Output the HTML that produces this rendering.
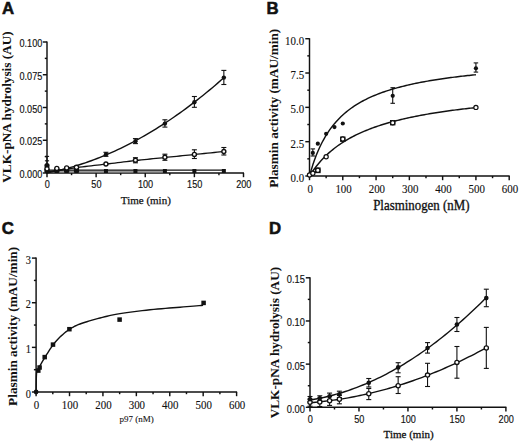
<!DOCTYPE html>
<html><head><meta charset="utf-8"><style>
html,body{margin:0;padding:0;background:#fff;}
body{width:520px;height:441px;overflow:hidden;}
svg{display:block;}
text{fill:#111;stroke:#111;stroke-width:0.3px;}
</style></head><body>
<svg width="520" height="441" viewBox="0 0 520 441">
<rect width="520" height="441" fill="#fff"/>
<line x1="47.00" y1="41.50" x2="47.00" y2="173.70" stroke="#111" stroke-width="1.45"/>
<line x1="46.30" y1="173.00" x2="244.00" y2="173.00" stroke="#111" stroke-width="1.45"/>
<line x1="42.80" y1="173.00" x2="47.00" y2="173.00" stroke="#111" stroke-width="1.45"/>
<line x1="42.80" y1="140.25" x2="47.00" y2="140.25" stroke="#111" stroke-width="1.45"/>
<line x1="42.80" y1="107.50" x2="47.00" y2="107.50" stroke="#111" stroke-width="1.45"/>
<line x1="42.80" y1="74.75" x2="47.00" y2="74.75" stroke="#111" stroke-width="1.45"/>
<line x1="42.80" y1="42.00" x2="47.00" y2="42.00" stroke="#111" stroke-width="1.45"/>
<line x1="44.80" y1="156.62" x2="47.00" y2="156.62" stroke="#111" stroke-width="1.45"/>
<line x1="44.80" y1="123.88" x2="47.00" y2="123.88" stroke="#111" stroke-width="1.45"/>
<line x1="44.80" y1="91.12" x2="47.00" y2="91.12" stroke="#111" stroke-width="1.45"/>
<line x1="44.80" y1="58.38" x2="47.00" y2="58.38" stroke="#111" stroke-width="1.45"/>
<line x1="47.00" y1="173.00" x2="47.00" y2="177.20" stroke="#111" stroke-width="1.45"/>
<line x1="96.12" y1="173.00" x2="96.12" y2="177.20" stroke="#111" stroke-width="1.45"/>
<line x1="145.25" y1="173.00" x2="145.25" y2="177.20" stroke="#111" stroke-width="1.45"/>
<line x1="194.38" y1="173.00" x2="194.38" y2="177.20" stroke="#111" stroke-width="1.45"/>
<line x1="243.50" y1="173.00" x2="243.50" y2="177.20" stroke="#111" stroke-width="1.45"/>
<line x1="71.56" y1="173.00" x2="71.56" y2="175.20" stroke="#111" stroke-width="1.45"/>
<line x1="120.69" y1="173.00" x2="120.69" y2="175.20" stroke="#111" stroke-width="1.45"/>
<line x1="169.81" y1="173.00" x2="169.81" y2="175.20" stroke="#111" stroke-width="1.45"/>
<line x1="218.94" y1="173.00" x2="218.94" y2="175.20" stroke="#111" stroke-width="1.45"/>
<text transform="translate(42.30,178.00) scale(0.95,1.07)" style="font-family:'Liberation Sans',sans-serif;font-size:9.6px;font-weight:normal;stroke-width:0.15px" text-anchor="end" >0.000</text>
<text transform="translate(42.30,145.25) scale(0.95,1.07)" style="font-family:'Liberation Sans',sans-serif;font-size:9.6px;font-weight:normal;stroke-width:0.15px" text-anchor="end" >0.025</text>
<text transform="translate(42.30,112.50) scale(0.95,1.07)" style="font-family:'Liberation Sans',sans-serif;font-size:9.6px;font-weight:normal;stroke-width:0.15px" text-anchor="end" >0.050</text>
<text transform="translate(42.30,79.75) scale(0.95,1.07)" style="font-family:'Liberation Sans',sans-serif;font-size:9.6px;font-weight:normal;stroke-width:0.15px" text-anchor="end" >0.075</text>
<text transform="translate(42.30,47.00) scale(0.95,1.07)" style="font-family:'Liberation Sans',sans-serif;font-size:9.6px;font-weight:normal;stroke-width:0.15px" text-anchor="end" >0.100</text>
<text transform="translate(47.30,188.40) scale(0.95,1.1)" style="font-family:'Liberation Sans',sans-serif;font-size:9.6px;font-weight:normal;stroke-width:0.15px" text-anchor="middle" >0</text>
<text transform="translate(96.42,188.40) scale(0.95,1.1)" style="font-family:'Liberation Sans',sans-serif;font-size:9.6px;font-weight:normal;stroke-width:0.15px" text-anchor="middle" >50</text>
<text transform="translate(145.55,188.40) scale(0.95,1.1)" style="font-family:'Liberation Sans',sans-serif;font-size:9.6px;font-weight:normal;stroke-width:0.15px" text-anchor="middle" >100</text>
<text transform="translate(194.68,188.40) scale(0.95,1.1)" style="font-family:'Liberation Sans',sans-serif;font-size:9.6px;font-weight:normal;stroke-width:0.15px" text-anchor="middle" >150</text>
<text transform="translate(243.80,188.40) scale(0.95,1.1)" style="font-family:'Liberation Sans',sans-serif;font-size:9.6px;font-weight:normal;stroke-width:0.15px" text-anchor="middle" >200</text>
<text transform="translate(145.80,203.90) scale(1.0,1.0)" style="font-family:'Liberation Serif',serif;font-size:11px;font-weight:normal;stroke-width:0.25px" text-anchor="middle" >Time (min)</text>
<text transform="translate(11.00,107.00) rotate(-90)" style="font-family:'Liberation Serif',serif;font-size:13.25px;font-weight:bold;stroke-width:0.05px" text-anchor="middle">VLK-pNA hydrolysis (AU)</text>
<text transform="translate(1.90,13.70) scale(1.0,1.0)" style="font-family:'Liberation Sans',sans-serif;font-size:16.8px;font-weight:bold;stroke-width:0.55px" text-anchor="start" >A</text>
<rect x="47.00" y="170.5" width="117.90" height="2.0" fill="#9a9a9a"/>
<line x1="47.00" y1="170.10" x2="223.85" y2="170.10" stroke="#111" stroke-width="1.1"/>
<rect x="45.00" y="169.00" width="4.0" height="4.0" fill="#111"/>
<rect x="54.83" y="169.00" width="4.0" height="4.0" fill="#111"/>
<rect x="64.65" y="169.00" width="4.0" height="4.0" fill="#111"/>
<rect x="74.47" y="169.00" width="4.0" height="4.0" fill="#111"/>
<rect x="103.95" y="169.00" width="4.0" height="4.0" fill="#111"/>
<rect x="133.43" y="169.00" width="4.0" height="4.0" fill="#111"/>
<rect x="162.90" y="169.00" width="4.0" height="4.0" fill="#111"/>
<rect x="192.38" y="169.00" width="4.0" height="4.0" fill="#111"/>
<rect x="221.85" y="169.00" width="4.0" height="4.0" fill="#111"/>
<path d="M47.00,172.00 L48.75,171.73 L51.01,171.39 L53.68,170.98 L56.67,170.51 L59.90,170.02 L63.27,169.51 L66.70,168.99 L70.11,168.49 L73.39,168.02 L76.47,167.60 L79.42,167.21 L82.37,166.84 L85.32,166.48 L88.27,166.14 L91.21,165.79 L94.16,165.46 L97.11,165.12 L100.05,164.79 L103.00,164.45 L105.95,164.10 L108.90,163.75 L111.84,163.39 L114.79,163.04 L117.74,162.68 L120.69,162.32 L123.64,161.97 L126.58,161.62 L129.53,161.27 L132.48,160.93 L135.43,160.60 L138.37,160.27 L141.32,159.95 L144.27,159.64 L147.22,159.33 L150.16,159.02 L153.11,158.71 L156.06,158.41 L159.01,158.11 L161.95,157.80 L164.90,157.50 L167.85,157.20 L170.80,156.89 L173.74,156.59 L176.69,156.29 L179.64,155.99 L182.59,155.70 L185.53,155.40 L188.48,155.10 L191.43,154.80 L194.38,154.50 L197.46,154.19 L200.74,153.85 L204.15,153.51 L207.58,153.16 L210.95,152.81 L214.18,152.48 L217.17,152.18 L219.84,151.91 L222.10,151.68 L223.85,151.50" fill="none" stroke="#111" stroke-width="1.3" stroke-linejoin="round"/>
<path d="M47.00,173.00 L49.95,172.42 L52.90,171.81 L55.84,171.16 L58.79,170.48 L61.74,169.76 L64.69,169.01 L67.63,168.23 L70.58,167.41 L73.53,166.56 L76.47,165.67 L79.42,164.75 L82.37,163.79 L85.32,162.80 L88.27,161.78 L91.21,160.72 L94.16,159.63 L97.11,158.51 L100.06,157.35 L103.00,156.15 L105.95,154.92 L108.90,153.66 L111.84,152.36 L114.79,151.03 L117.74,149.67 L120.69,148.27 L123.64,146.83 L126.58,145.36 L129.53,143.86 L132.48,142.32 L135.43,140.75 L138.37,139.15 L141.32,137.51 L144.27,135.84 L147.22,134.13 L150.16,132.39 L153.11,130.61 L156.06,128.80 L159.00,126.96 L161.95,125.08 L164.90,123.17 L167.85,121.22 L170.80,119.24 L173.74,117.22 L176.69,115.18 L179.64,113.09 L182.59,110.97 L185.53,108.82 L188.48,106.64 L191.43,104.42 L194.38,102.16 L197.32,99.87 L200.27,97.55 L203.22,95.19 L206.17,92.80 L209.11,90.38 L212.06,87.92 L215.01,85.42 L217.96,82.90 L220.90,80.33 L223.85,77.74" fill="none" stroke="#111" stroke-width="1.4" stroke-linejoin="round"/>
<line x1="135.43" y1="157.70" x2="135.43" y2="162.80" stroke="#111" stroke-width="1.1"/>
<line x1="132.93" y1="157.70" x2="137.93" y2="157.70" stroke="#111" stroke-width="1.1"/>
<line x1="132.93" y1="162.80" x2="137.93" y2="162.80" stroke="#111" stroke-width="1.1"/>
<line x1="164.90" y1="154.20" x2="164.90" y2="160.30" stroke="#111" stroke-width="1.1"/>
<line x1="162.40" y1="154.20" x2="167.40" y2="154.20" stroke="#111" stroke-width="1.1"/>
<line x1="162.40" y1="160.30" x2="167.40" y2="160.30" stroke="#111" stroke-width="1.1"/>
<line x1="194.38" y1="149.80" x2="194.38" y2="158.50" stroke="#111" stroke-width="1.1"/>
<line x1="191.88" y1="149.80" x2="196.88" y2="149.80" stroke="#111" stroke-width="1.1"/>
<line x1="191.88" y1="158.50" x2="196.88" y2="158.50" stroke="#111" stroke-width="1.1"/>
<line x1="223.85" y1="147.50" x2="223.85" y2="155.00" stroke="#111" stroke-width="1.1"/>
<line x1="221.35" y1="147.50" x2="226.35" y2="147.50" stroke="#111" stroke-width="1.1"/>
<line x1="221.35" y1="155.00" x2="226.35" y2="155.00" stroke="#111" stroke-width="1.1"/>
<line x1="105.95" y1="152.30" x2="105.95" y2="156.30" stroke="#111" stroke-width="1.1"/>
<line x1="103.45" y1="152.30" x2="108.45" y2="152.30" stroke="#111" stroke-width="1.1"/>
<line x1="103.45" y1="156.30" x2="108.45" y2="156.30" stroke="#111" stroke-width="1.1"/>
<line x1="135.43" y1="138.60" x2="135.43" y2="143.60" stroke="#111" stroke-width="1.1"/>
<line x1="132.93" y1="138.60" x2="137.93" y2="138.60" stroke="#111" stroke-width="1.1"/>
<line x1="132.93" y1="143.60" x2="137.93" y2="143.60" stroke="#111" stroke-width="1.1"/>
<line x1="164.90" y1="119.80" x2="164.90" y2="127.10" stroke="#111" stroke-width="1.1"/>
<line x1="162.40" y1="119.80" x2="167.40" y2="119.80" stroke="#111" stroke-width="1.1"/>
<line x1="162.40" y1="127.10" x2="167.40" y2="127.10" stroke="#111" stroke-width="1.1"/>
<line x1="194.38" y1="96.50" x2="194.38" y2="107.30" stroke="#111" stroke-width="1.1"/>
<line x1="191.88" y1="96.50" x2="196.88" y2="96.50" stroke="#111" stroke-width="1.1"/>
<line x1="191.88" y1="107.30" x2="196.88" y2="107.30" stroke="#111" stroke-width="1.1"/>
<line x1="223.85" y1="70.40" x2="223.85" y2="84.50" stroke="#111" stroke-width="1.1"/>
<line x1="221.35" y1="70.40" x2="226.35" y2="70.40" stroke="#111" stroke-width="1.1"/>
<line x1="221.35" y1="84.50" x2="226.35" y2="84.50" stroke="#111" stroke-width="1.1"/>
<line x1="47.00" y1="156.40" x2="47.00" y2="172.00" stroke="#111" stroke-width="1.1"/>
<line x1="44.90" y1="156.40" x2="49.10" y2="156.40" stroke="#111" stroke-width="1.1"/>
<line x1="44.90" y1="172.00" x2="49.10" y2="172.00" stroke="#111" stroke-width="1.1"/>
<line x1="44.90" y1="160.80" x2="49.10" y2="160.80" stroke="#111" stroke-width="1.1"/>
<circle cx="47.00" cy="165.50" r="2.6" fill="#111"/>
<rect x="44.40" y="168.80" width="5.2" height="3.80" fill="#111"/>
<circle cx="47.00" cy="168.80" r="2.7" fill="#111"/>
<circle cx="47.00" cy="168.80" r="1.35" fill="#fff"/>
<rect x="54.23" y="168.40" width="5.2" height="4.20" fill="#111"/>
<circle cx="56.83" cy="168.40" r="2.7" fill="#111"/>
<circle cx="56.83" cy="168.40" r="1.35" fill="#fff"/>
<rect x="64.05" y="167.90" width="5.2" height="4.70" fill="#111"/>
<circle cx="66.65" cy="167.90" r="2.7" fill="#111"/>
<circle cx="66.65" cy="167.90" r="1.35" fill="#fff"/>
<rect x="73.88" y="167.30" width="5.2" height="5.30" fill="#111"/>
<circle cx="76.47" cy="167.30" r="2.7" fill="#111"/>
<circle cx="76.47" cy="167.30" r="1.35" fill="#fff"/>
<circle cx="105.95" cy="164.00" r="2.0" fill="#fff" stroke="#111" stroke-width="1.4"/>
<circle cx="135.43" cy="160.20" r="2.0" fill="#fff" stroke="#111" stroke-width="1.4"/>
<circle cx="164.90" cy="157.30" r="2.0" fill="#fff" stroke="#111" stroke-width="1.4"/>
<circle cx="194.38" cy="154.40" r="2.0" fill="#fff" stroke="#111" stroke-width="1.4"/>
<circle cx="223.85" cy="151.50" r="2.0" fill="#fff" stroke="#111" stroke-width="1.4"/>
<circle cx="105.95" cy="154.40" r="2.2" fill="#111"/>
<circle cx="135.43" cy="141.20" r="2.2" fill="#111"/>
<circle cx="164.90" cy="123.60" r="2.2" fill="#111"/>
<circle cx="194.38" cy="102.30" r="2.2" fill="#111"/>
<circle cx="223.85" cy="77.60" r="2.2" fill="#111"/>
<line x1="309.50" y1="38.20" x2="309.50" y2="176.70" stroke="#111" stroke-width="1.45"/>
<line x1="308.80" y1="176.00" x2="509.70" y2="176.00" stroke="#111" stroke-width="1.45"/>
<line x1="305.30" y1="176.00" x2="309.50" y2="176.00" stroke="#111" stroke-width="1.45"/>
<line x1="305.30" y1="141.68" x2="309.50" y2="141.68" stroke="#111" stroke-width="1.45"/>
<line x1="305.30" y1="107.35" x2="309.50" y2="107.35" stroke="#111" stroke-width="1.45"/>
<line x1="305.30" y1="73.02" x2="309.50" y2="73.02" stroke="#111" stroke-width="1.45"/>
<line x1="305.30" y1="38.70" x2="309.50" y2="38.70" stroke="#111" stroke-width="1.45"/>
<line x1="307.30" y1="158.84" x2="309.50" y2="158.84" stroke="#111" stroke-width="1.45"/>
<line x1="307.30" y1="124.51" x2="309.50" y2="124.51" stroke="#111" stroke-width="1.45"/>
<line x1="307.30" y1="90.19" x2="309.50" y2="90.19" stroke="#111" stroke-width="1.45"/>
<line x1="307.30" y1="55.86" x2="309.50" y2="55.86" stroke="#111" stroke-width="1.45"/>
<line x1="309.50" y1="176.00" x2="309.50" y2="180.20" stroke="#111" stroke-width="1.45"/>
<line x1="342.78" y1="176.00" x2="342.78" y2="180.20" stroke="#111" stroke-width="1.45"/>
<line x1="376.07" y1="176.00" x2="376.07" y2="180.20" stroke="#111" stroke-width="1.45"/>
<line x1="409.35" y1="176.00" x2="409.35" y2="180.20" stroke="#111" stroke-width="1.45"/>
<line x1="442.63" y1="176.00" x2="442.63" y2="180.20" stroke="#111" stroke-width="1.45"/>
<line x1="475.92" y1="176.00" x2="475.92" y2="180.20" stroke="#111" stroke-width="1.45"/>
<line x1="509.20" y1="176.00" x2="509.20" y2="180.20" stroke="#111" stroke-width="1.45"/>
<line x1="326.14" y1="176.00" x2="326.14" y2="178.20" stroke="#111" stroke-width="1.45"/>
<line x1="359.43" y1="176.00" x2="359.43" y2="178.20" stroke="#111" stroke-width="1.45"/>
<line x1="392.71" y1="176.00" x2="392.71" y2="178.20" stroke="#111" stroke-width="1.45"/>
<line x1="425.99" y1="176.00" x2="425.99" y2="178.20" stroke="#111" stroke-width="1.45"/>
<line x1="459.27" y1="176.00" x2="459.27" y2="178.20" stroke="#111" stroke-width="1.45"/>
<line x1="492.56" y1="176.00" x2="492.56" y2="178.20" stroke="#111" stroke-width="1.45"/>
<text transform="translate(304.10,181.90) scale(0.94,1.1)" style="font-family:'Liberation Serif',serif;font-size:11.6px;font-weight:normal;stroke-width:0.12px" text-anchor="end" >0.0</text>
<text transform="translate(304.10,147.58) scale(0.94,1.1)" style="font-family:'Liberation Serif',serif;font-size:11.6px;font-weight:normal;stroke-width:0.12px" text-anchor="end" >2.5</text>
<text transform="translate(304.10,113.25) scale(0.94,1.1)" style="font-family:'Liberation Serif',serif;font-size:11.6px;font-weight:normal;stroke-width:0.12px" text-anchor="end" >5.0</text>
<text transform="translate(304.10,78.92) scale(0.94,1.1)" style="font-family:'Liberation Serif',serif;font-size:11.6px;font-weight:normal;stroke-width:0.12px" text-anchor="end" >7.5</text>
<text transform="translate(304.10,44.60) scale(0.94,1.1)" style="font-family:'Liberation Serif',serif;font-size:11.6px;font-weight:normal;stroke-width:0.12px" text-anchor="end" >10.0</text>
<text transform="translate(310.30,192.90) scale(0.94,1.1)" style="font-family:'Liberation Serif',serif;font-size:11.6px;font-weight:normal;stroke-width:0.12px" text-anchor="middle" >0</text>
<text transform="translate(343.58,192.90) scale(0.94,1.1)" style="font-family:'Liberation Serif',serif;font-size:11.6px;font-weight:normal;stroke-width:0.12px" text-anchor="middle" >100</text>
<text transform="translate(376.87,192.90) scale(0.94,1.1)" style="font-family:'Liberation Serif',serif;font-size:11.6px;font-weight:normal;stroke-width:0.12px" text-anchor="middle" >200</text>
<text transform="translate(410.15,192.90) scale(0.94,1.1)" style="font-family:'Liberation Serif',serif;font-size:11.6px;font-weight:normal;stroke-width:0.12px" text-anchor="middle" >300</text>
<text transform="translate(443.43,192.90) scale(0.94,1.1)" style="font-family:'Liberation Serif',serif;font-size:11.6px;font-weight:normal;stroke-width:0.12px" text-anchor="middle" >400</text>
<text transform="translate(476.72,192.90) scale(0.94,1.1)" style="font-family:'Liberation Serif',serif;font-size:11.6px;font-weight:normal;stroke-width:0.12px" text-anchor="middle" >500</text>
<text transform="translate(510.00,192.90) scale(0.94,1.1)" style="font-family:'Liberation Serif',serif;font-size:11.6px;font-weight:normal;stroke-width:0.12px" text-anchor="middle" >600</text>
<text transform="translate(421.30,209.70) scale(1.0,1.06)" style="font-family:'Liberation Serif',serif;font-size:12.9px;font-weight:normal" text-anchor="middle" >Plasminogen (nM)</text>
<text transform="translate(277.50,108.30) rotate(-90)" style="font-family:'Liberation Serif',serif;font-size:13.25px;font-weight:bold;stroke-width:0.05px" text-anchor="middle">Plasmin activity (mAU/min)</text>
<text transform="translate(266.60,13.50) scale(1.0,1.0)" style="font-family:'Liberation Sans',sans-serif;font-size:16.8px;font-weight:bold;stroke-width:0.55px" text-anchor="start" >B</text>
<path d="M309.50,176.00 L311.16,170.16 L312.83,164.85 L314.49,160.01 L316.16,155.58 L317.82,151.50 L319.49,147.75 L321.15,144.27 L322.81,141.04 L324.48,138.04 L326.14,135.24 L327.81,132.62 L329.47,130.17 L331.13,127.87 L332.80,125.70 L334.46,123.66 L336.13,121.73 L337.79,119.90 L339.45,118.18 L341.12,116.54 L342.78,114.98 L344.45,113.50 L346.11,112.10 L347.78,110.75 L349.44,109.47 L351.10,108.25 L352.77,107.08 L354.43,105.96 L356.10,104.89 L357.76,103.86 L359.43,102.87 L361.09,101.92 L362.75,101.01 L364.42,100.13 L366.08,99.28 L367.75,98.47 L369.41,97.69 L371.07,96.93 L372.74,96.20 L374.40,95.49 L376.07,94.81 L377.73,94.15 L379.39,93.51 L381.06,92.89 L382.72,92.29 L384.39,91.71 L386.05,91.15 L387.72,90.60 L389.38,90.07 L391.04,89.56 L392.71,89.06 L394.37,88.57 L396.04,88.10 L397.70,87.64 L399.37,87.20 L401.03,86.76 L402.69,86.34 L404.36,85.93 L406.02,85.52 L407.69,85.13 L409.35,84.75 L411.01,84.38 L412.68,84.02 L414.34,83.66 L416.01,83.32 L417.67,82.98 L419.33,82.65 L421.00,82.33 L422.66,82.01 L424.33,81.70 L425.99,81.40 L427.66,81.11 L429.32,80.82 L430.98,80.54 L432.65,80.26 L434.31,79.99 L435.98,79.73 L437.64,79.47 L439.31,79.22 L440.97,78.97 L442.63,78.73 L444.30,78.49 L445.96,78.25 L447.63,78.03 L449.29,77.80 L450.95,77.58 L452.62,77.36 L454.28,77.15 L455.95,76.94 L457.61,76.74 L459.27,76.54 L460.94,76.34 L462.60,76.15 L464.27,75.96 L465.93,75.77 L467.60,75.59 L469.26,75.41 L470.92,75.23 L472.59,75.05 L474.25,74.88 L475.92,74.71" fill="none" stroke="#111" stroke-width="1.45" stroke-linejoin="round"/>
<path d="M309.50,176.00 L311.16,173.43 L312.83,171.01 L314.49,168.71 L316.16,166.52 L317.82,164.45 L319.49,162.48 L321.15,160.60 L322.81,158.81 L324.48,157.10 L326.14,155.47 L327.81,153.90 L329.47,152.41 L331.13,150.97 L332.80,149.60 L334.46,148.28 L336.13,147.01 L337.79,145.79 L339.45,144.62 L341.12,143.49 L342.78,142.40 L344.45,141.35 L346.11,140.34 L347.78,139.36 L349.44,138.41 L351.10,137.50 L352.77,136.62 L354.43,135.76 L356.10,134.93 L357.76,134.13 L359.43,133.35 L361.09,132.60 L362.75,131.87 L364.42,131.16 L366.08,130.47 L367.75,129.80 L369.41,129.15 L371.07,128.52 L372.74,127.90 L374.40,127.30 L376.07,126.72 L377.73,126.15 L379.39,125.60 L381.06,125.06 L382.72,124.54 L384.39,124.03 L386.05,123.53 L387.72,123.04 L389.38,122.56 L391.04,122.10 L392.71,121.65 L394.37,121.20 L396.04,120.77 L397.70,120.35 L399.37,119.94 L401.03,119.53 L402.69,119.14 L404.36,118.75 L406.02,118.37 L407.69,118.00 L409.35,117.64 L411.01,117.29 L412.68,116.94 L414.34,116.60 L416.01,116.27 L417.67,115.94 L419.33,115.62 L421.00,115.31 L422.66,115.00 L424.33,114.70 L425.99,114.40 L427.66,114.11 L429.32,113.82 L430.98,113.54 L432.65,113.27 L434.31,113.00 L435.98,112.74 L437.64,112.47 L439.31,112.22 L440.97,111.97 L442.63,111.72 L444.30,111.48 L445.96,111.24 L447.63,111.01 L449.29,110.78 L450.95,110.55 L452.62,110.33 L454.28,110.11 L455.95,109.89 L457.61,109.68 L459.27,109.47 L460.94,109.27 L462.60,109.06 L464.27,108.87 L465.93,108.67 L467.60,108.48 L469.26,108.29 L470.92,108.10 L472.59,107.92 L474.25,107.73 L475.92,107.56" fill="none" stroke="#111" stroke-width="1.45" stroke-linejoin="round"/>
<line x1="312.83" y1="148.90" x2="312.83" y2="156.00" stroke="#111" stroke-width="1.1"/>
<line x1="310.58" y1="148.90" x2="315.08" y2="148.90" stroke="#111" stroke-width="1.1"/>
<line x1="310.58" y1="156.00" x2="315.08" y2="156.00" stroke="#111" stroke-width="1.1"/>
<line x1="392.71" y1="87.70" x2="392.71" y2="103.30" stroke="#111" stroke-width="1.1"/>
<line x1="390.46" y1="87.70" x2="394.96" y2="87.70" stroke="#111" stroke-width="1.1"/>
<line x1="390.46" y1="103.30" x2="394.96" y2="103.30" stroke="#111" stroke-width="1.1"/>
<line x1="475.92" y1="62.90" x2="475.92" y2="72.10" stroke="#111" stroke-width="1.1"/>
<line x1="473.67" y1="62.90" x2="478.17" y2="62.90" stroke="#111" stroke-width="1.1"/>
<line x1="473.67" y1="72.10" x2="478.17" y2="72.10" stroke="#111" stroke-width="1.1"/>
<circle cx="312.83" cy="152.90" r="2.1" fill="#111"/>
<circle cx="317.82" cy="143.70" r="2.1" fill="#111"/>
<circle cx="326.14" cy="133.80" r="2.1" fill="#111"/>
<circle cx="334.46" cy="127.10" r="2.1" fill="#111"/>
<circle cx="342.78" cy="123.50" r="2.1" fill="#111"/>
<circle cx="392.71" cy="95.80" r="2.1" fill="#111"/>
<circle cx="475.92" cy="68.30" r="2.1" fill="#111"/>
<rect x="315.57" y="168.05" width="4.5" height="4.5" fill="#fff" stroke="#111" stroke-width="1.2"/>
<rect x="340.68" y="137.10" width="4.2" height="4.2" fill="#fff" stroke="#111" stroke-width="1.2"/>
<rect x="390.61" y="120.60" width="4.2" height="4.2" fill="#fff" stroke="#111" stroke-width="1.2"/>
<circle cx="309.50" cy="175.00" r="2.1" fill="#fff" stroke="#111" stroke-width="1.2"/>
<circle cx="312.83" cy="173.20" r="2.1" fill="#fff" stroke="#111" stroke-width="1.2"/>
<circle cx="317.82" cy="170.30" r="2.1" fill="#fff" stroke="#111" stroke-width="1.2"/>
<circle cx="326.14" cy="156.80" r="2.1" fill="#fff" stroke="#111" stroke-width="1.2"/>
<circle cx="342.78" cy="139.00" r="2.1" fill="#fff" stroke="#111" stroke-width="1.2"/>
<circle cx="392.71" cy="122.70" r="2.1" fill="#fff" stroke="#111" stroke-width="1.2"/>
<circle cx="475.92" cy="107.40" r="2.1" fill="#fff" stroke="#111" stroke-width="1.2"/>
<line x1="36.10" y1="257.60" x2="36.10" y2="392.70" stroke="#111" stroke-width="1.45"/>
<line x1="35.40" y1="392.00" x2="237.10" y2="392.00" stroke="#111" stroke-width="1.45"/>
<line x1="31.90" y1="392.00" x2="36.10" y2="392.00" stroke="#111" stroke-width="1.45"/>
<line x1="31.90" y1="347.37" x2="36.10" y2="347.37" stroke="#111" stroke-width="1.45"/>
<line x1="31.90" y1="302.73" x2="36.10" y2="302.73" stroke="#111" stroke-width="1.45"/>
<line x1="31.90" y1="258.10" x2="36.10" y2="258.10" stroke="#111" stroke-width="1.45"/>
<line x1="33.90" y1="369.68" x2="36.10" y2="369.68" stroke="#111" stroke-width="1.45"/>
<line x1="33.90" y1="325.05" x2="36.10" y2="325.05" stroke="#111" stroke-width="1.45"/>
<line x1="33.90" y1="280.42" x2="36.10" y2="280.42" stroke="#111" stroke-width="1.45"/>
<line x1="36.10" y1="392.00" x2="36.10" y2="396.20" stroke="#111" stroke-width="1.45"/>
<line x1="69.52" y1="392.00" x2="69.52" y2="396.20" stroke="#111" stroke-width="1.45"/>
<line x1="102.93" y1="392.00" x2="102.93" y2="396.20" stroke="#111" stroke-width="1.45"/>
<line x1="136.35" y1="392.00" x2="136.35" y2="396.20" stroke="#111" stroke-width="1.45"/>
<line x1="169.77" y1="392.00" x2="169.77" y2="396.20" stroke="#111" stroke-width="1.45"/>
<line x1="203.18" y1="392.00" x2="203.18" y2="396.20" stroke="#111" stroke-width="1.45"/>
<line x1="236.60" y1="392.00" x2="236.60" y2="396.20" stroke="#111" stroke-width="1.45"/>
<line x1="52.81" y1="392.00" x2="52.81" y2="394.20" stroke="#111" stroke-width="1.45"/>
<line x1="86.22" y1="392.00" x2="86.22" y2="394.20" stroke="#111" stroke-width="1.45"/>
<line x1="119.64" y1="392.00" x2="119.64" y2="394.20" stroke="#111" stroke-width="1.45"/>
<line x1="153.06" y1="392.00" x2="153.06" y2="394.20" stroke="#111" stroke-width="1.45"/>
<line x1="186.47" y1="392.00" x2="186.47" y2="394.20" stroke="#111" stroke-width="1.45"/>
<line x1="219.89" y1="392.00" x2="219.89" y2="394.20" stroke="#111" stroke-width="1.45"/>
<text transform="translate(31.00,397.60) scale(1.0,1.25)" style="font-family:'Liberation Serif',serif;font-size:10.4px;font-weight:normal;stroke-width:0.12px" text-anchor="end" >0</text>
<text transform="translate(31.00,352.97) scale(1.0,1.25)" style="font-family:'Liberation Serif',serif;font-size:10.4px;font-weight:normal;stroke-width:0.12px" text-anchor="end" >1</text>
<text transform="translate(31.00,308.33) scale(1.0,1.25)" style="font-family:'Liberation Serif',serif;font-size:10.4px;font-weight:normal;stroke-width:0.12px" text-anchor="end" >2</text>
<text transform="translate(31.00,263.70) scale(1.0,1.25)" style="font-family:'Liberation Serif',serif;font-size:10.4px;font-weight:normal;stroke-width:0.12px" text-anchor="end" >3</text>
<text transform="translate(36.60,408.90) scale(0.94,1.1)" style="font-family:'Liberation Serif',serif;font-size:11.6px;font-weight:normal;stroke-width:0.12px" text-anchor="middle" >0</text>
<text transform="translate(70.02,408.90) scale(0.94,1.1)" style="font-family:'Liberation Serif',serif;font-size:11.6px;font-weight:normal;stroke-width:0.12px" text-anchor="middle" >100</text>
<text transform="translate(103.43,408.90) scale(0.94,1.1)" style="font-family:'Liberation Serif',serif;font-size:11.6px;font-weight:normal;stroke-width:0.12px" text-anchor="middle" >200</text>
<text transform="translate(136.85,408.90) scale(0.94,1.1)" style="font-family:'Liberation Serif',serif;font-size:11.6px;font-weight:normal;stroke-width:0.12px" text-anchor="middle" >300</text>
<text transform="translate(170.27,408.90) scale(0.94,1.1)" style="font-family:'Liberation Serif',serif;font-size:11.6px;font-weight:normal;stroke-width:0.12px" text-anchor="middle" >400</text>
<text transform="translate(203.68,408.90) scale(0.94,1.1)" style="font-family:'Liberation Serif',serif;font-size:11.6px;font-weight:normal;stroke-width:0.12px" text-anchor="middle" >500</text>
<text transform="translate(237.10,408.90) scale(0.94,1.1)" style="font-family:'Liberation Serif',serif;font-size:11.6px;font-weight:normal;stroke-width:0.12px" text-anchor="middle" >600</text>
<text transform="translate(136.60,422.30) scale(1.0,1.0)" style="font-family:'Liberation Serif',serif;font-size:9px;font-weight:normal;stroke-width:0.1px" text-anchor="middle" >p97 (nM)</text>
<text transform="translate(17.10,326.40) rotate(-90)" style="font-family:'Liberation Serif',serif;font-size:13.25px;font-weight:bold;stroke-width:0.05px" text-anchor="middle">Plasmin activity (mAU/min)</text>
<text transform="translate(1.70,233.60) scale(1.0,1.0)" style="font-family:'Liberation Sans',sans-serif;font-size:16.8px;font-weight:bold;stroke-width:0.55px" text-anchor="start" >C</text>
<path d="M36.10,392.00 L36.11,391.38 L36.12,390.56 L36.13,389.59 L36.14,388.50 L36.15,387.35 L36.17,386.19 L36.18,385.05 L36.20,384.00 L36.22,382.98 L36.24,381.92 L36.26,380.84 L36.28,379.78 L36.31,378.74 L36.33,377.75 L36.36,376.83 L36.40,376.00 L36.44,375.26 L36.47,374.59 L36.51,373.98 L36.55,373.43 L36.60,372.92 L36.65,372.45 L36.72,372.01 L36.80,371.60 L36.86,371.30 L36.87,371.16 L36.87,371.11 L36.89,371.07 L36.97,370.97 L37.12,370.74 L37.39,370.31 L37.80,369.60 L38.37,368.59 L39.08,367.34 L39.89,365.90 L40.79,364.32 L41.75,362.66 L42.74,360.96 L43.73,359.29 L44.70,357.70 L45.68,356.12 L46.70,354.48 L47.75,352.81 L48.81,351.13 L49.88,349.48 L50.95,347.89 L51.99,346.39 L53.00,345.00 L53.97,343.74 L54.90,342.57 L55.81,341.48 L56.71,340.46 L57.62,339.47 L58.55,338.51 L59.50,337.56 L60.50,336.60 L61.53,335.63 L62.59,334.67 L63.66,333.73 L64.76,332.81 L65.88,331.92 L67.02,331.05 L68.20,330.21 L69.40,329.40 L70.58,328.64 L71.71,327.94 L72.84,327.27 L74.01,326.62 L75.26,325.99 L76.65,325.35 L78.21,324.69 L80.00,324.00 L82.05,323.27 L84.34,322.50 L86.81,321.72 L89.41,320.94 L92.09,320.16 L94.78,319.40 L97.44,318.68 L100.00,318.00 L102.43,317.37 L104.77,316.77 L107.06,316.21 L109.38,315.66 L111.77,315.14 L114.30,314.62 L117.02,314.11 L120.00,313.60 L123.27,313.09 L126.80,312.58 L130.52,312.08 L134.38,311.59 L138.31,311.11 L142.27,310.65 L146.18,310.21 L150.00,309.80 L153.80,309.41 L157.66,309.05 L161.55,308.71 L165.43,308.38 L169.26,308.07 L172.99,307.77 L176.58,307.48 L180.00,307.20 L183.38,306.92 L186.80,306.63 L190.18,306.35 L193.43,306.09 L196.43,305.84 L199.11,305.62 L201.37,305.44 L203.10,305.30" fill="none" stroke="#111" stroke-width="1.4" stroke-linejoin="round"/>
<circle cx="36.10" cy="392.00" r="2.4" fill="#111"/>
<rect x="36.05" y="368.35" width="4.5" height="4.5" fill="#111"/>
<rect x="37.35" y="365.25" width="4.5" height="4.5" fill="#111"/>
<rect x="42.45" y="354.85" width="4.5" height="4.5" fill="#111"/>
<rect x="50.75" y="342.35" width="4.5" height="4.5" fill="#111"/>
<rect x="67.15" y="326.95" width="4.5" height="4.5" fill="#111"/>
<rect x="117.35" y="317.35" width="4.5" height="4.5" fill="#111"/>
<rect x="201.35" y="300.65" width="4.5" height="4.5" fill="#111"/>
<line x1="310.00" y1="277.30" x2="310.00" y2="408.00" stroke="#111" stroke-width="1.45"/>
<line x1="309.30" y1="407.30" x2="506.40" y2="407.30" stroke="#111" stroke-width="1.45"/>
<line x1="305.80" y1="407.30" x2="310.00" y2="407.30" stroke="#111" stroke-width="1.45"/>
<line x1="305.80" y1="364.13" x2="310.00" y2="364.13" stroke="#111" stroke-width="1.45"/>
<line x1="305.80" y1="320.97" x2="310.00" y2="320.97" stroke="#111" stroke-width="1.45"/>
<line x1="305.80" y1="277.80" x2="310.00" y2="277.80" stroke="#111" stroke-width="1.45"/>
<line x1="307.80" y1="385.72" x2="310.00" y2="385.72" stroke="#111" stroke-width="1.45"/>
<line x1="307.80" y1="342.55" x2="310.00" y2="342.55" stroke="#111" stroke-width="1.45"/>
<line x1="307.80" y1="299.38" x2="310.00" y2="299.38" stroke="#111" stroke-width="1.45"/>
<line x1="310.00" y1="407.30" x2="310.00" y2="411.50" stroke="#111" stroke-width="1.45"/>
<line x1="358.98" y1="407.30" x2="358.98" y2="411.50" stroke="#111" stroke-width="1.45"/>
<line x1="407.95" y1="407.30" x2="407.95" y2="411.50" stroke="#111" stroke-width="1.45"/>
<line x1="456.92" y1="407.30" x2="456.92" y2="411.50" stroke="#111" stroke-width="1.45"/>
<line x1="505.90" y1="407.30" x2="505.90" y2="411.50" stroke="#111" stroke-width="1.45"/>
<line x1="334.49" y1="407.30" x2="334.49" y2="409.50" stroke="#111" stroke-width="1.45"/>
<line x1="383.46" y1="407.30" x2="383.46" y2="409.50" stroke="#111" stroke-width="1.45"/>
<line x1="432.44" y1="407.30" x2="432.44" y2="409.50" stroke="#111" stroke-width="1.45"/>
<line x1="481.41" y1="407.30" x2="481.41" y2="409.50" stroke="#111" stroke-width="1.45"/>
<text transform="translate(304.80,412.70) scale(0.97,1.1)" style="font-family:'Liberation Sans',sans-serif;font-size:9.6px;font-weight:normal;stroke-width:0.15px" text-anchor="end" >0.00</text>
<text transform="translate(304.80,369.53) scale(0.97,1.1)" style="font-family:'Liberation Sans',sans-serif;font-size:9.6px;font-weight:normal;stroke-width:0.15px" text-anchor="end" >0.05</text>
<text transform="translate(304.80,326.37) scale(0.97,1.1)" style="font-family:'Liberation Sans',sans-serif;font-size:9.6px;font-weight:normal;stroke-width:0.15px" text-anchor="end" >0.10</text>
<text transform="translate(304.80,283.20) scale(0.97,1.1)" style="font-family:'Liberation Sans',sans-serif;font-size:9.6px;font-weight:normal;stroke-width:0.15px" text-anchor="end" >0.15</text>
<text transform="translate(310.30,422.60) scale(0.95,1.1)" style="font-family:'Liberation Sans',sans-serif;font-size:9.6px;font-weight:normal;stroke-width:0.15px" text-anchor="middle" >0</text>
<text transform="translate(359.28,422.60) scale(0.95,1.1)" style="font-family:'Liberation Sans',sans-serif;font-size:9.6px;font-weight:normal;stroke-width:0.15px" text-anchor="middle" >50</text>
<text transform="translate(408.25,422.60) scale(0.95,1.1)" style="font-family:'Liberation Sans',sans-serif;font-size:9.6px;font-weight:normal;stroke-width:0.15px" text-anchor="middle" >100</text>
<text transform="translate(457.22,422.60) scale(0.95,1.1)" style="font-family:'Liberation Sans',sans-serif;font-size:9.6px;font-weight:normal;stroke-width:0.15px" text-anchor="middle" >150</text>
<text transform="translate(506.20,422.60) scale(0.95,1.1)" style="font-family:'Liberation Sans',sans-serif;font-size:9.6px;font-weight:normal;stroke-width:0.15px" text-anchor="middle" >200</text>
<text transform="translate(408.60,437.70) scale(1.0,1.0)" style="font-family:'Liberation Serif',serif;font-size:11px;font-weight:normal" text-anchor="middle" >Time (min)</text>
<text transform="translate(278.90,342.60) rotate(-90)" style="font-family:'Liberation Serif',serif;font-size:13.25px;font-weight:bold;stroke-width:0.05px" text-anchor="middle">VLK-pNA hydrolysis (AU)</text>
<text transform="translate(269.00,234.30) scale(1.0,1.0)" style="font-family:'Liberation Sans',sans-serif;font-size:16.8px;font-weight:bold;stroke-width:0.55px" text-anchor="start" >D</text>
<path d="M310.00,400.01 L312.94,399.53 L315.88,399.01 L318.82,398.45 L321.75,397.85 L324.69,397.20 L327.63,396.51 L330.57,395.79 L333.51,395.02 L336.45,394.20 L339.38,393.35 L342.32,392.46 L345.26,391.52 L348.20,390.54 L351.14,389.52 L354.08,388.46 L357.02,387.36 L359.95,386.21 L362.89,385.02 L365.83,383.80 L368.77,382.53 L371.71,381.21 L374.65,379.86 L377.59,378.47 L380.52,377.03 L383.46,375.55 L386.40,374.03 L389.34,372.47 L392.28,370.87 L395.22,369.22 L398.15,367.53 L401.09,365.81 L404.03,364.04 L406.97,362.22 L409.91,360.37 L412.85,358.48 L415.79,356.54 L418.72,354.56 L421.66,352.54 L424.60,350.48 L427.54,348.38 L430.48,346.23 L433.42,344.05 L436.36,341.82 L439.29,339.55 L442.23,337.24 L445.17,334.88 L448.11,332.49 L451.05,330.05 L453.99,327.57 L456.92,325.05 L459.86,322.49 L462.80,319.89 L465.74,317.24 L468.68,314.56 L471.62,311.83 L474.56,309.06 L477.49,306.25 L480.43,303.39 L483.37,300.50 L486.31,297.56" fill="none" stroke="#111" stroke-width="1.4" stroke-linejoin="round"/>
<path d="M310.00,402.68 L312.94,402.44 L315.88,402.19 L318.82,401.90 L321.75,401.60 L324.69,401.27 L327.63,400.92 L330.57,400.55 L333.51,400.15 L336.45,399.74 L339.38,399.29 L342.32,398.83 L345.26,398.34 L348.20,397.83 L351.14,397.29 L354.08,396.74 L357.02,396.16 L359.95,395.55 L362.89,394.92 L365.83,394.27 L368.77,393.60 L371.71,392.91 L374.65,392.19 L377.59,391.44 L380.52,390.68 L383.46,389.89 L386.40,389.08 L389.34,388.24 L392.28,387.39 L395.22,386.51 L398.15,385.60 L401.09,384.68 L404.03,383.73 L406.97,382.75 L409.91,381.76 L412.85,380.74 L415.79,379.70 L418.72,378.63 L421.66,377.54 L424.60,376.43 L427.54,375.30 L430.48,374.14 L433.42,372.96 L436.36,371.75 L439.29,370.53 L442.23,369.28 L445.17,368.01 L448.11,366.71 L451.05,365.39 L453.99,364.05 L456.92,362.68 L459.86,361.29 L462.80,359.88 L465.74,358.45 L468.68,356.99 L471.62,355.51 L474.56,354.01 L477.49,352.48 L480.43,350.93 L483.37,349.36 L486.31,347.76" fill="none" stroke="#111" stroke-width="1.4" stroke-linejoin="round"/>
<line x1="310.00" y1="399.00" x2="310.00" y2="406.20" stroke="#111" stroke-width="1.1"/>
<line x1="307.50" y1="399.00" x2="312.50" y2="399.00" stroke="#111" stroke-width="1.1"/>
<line x1="307.50" y1="406.20" x2="312.50" y2="406.20" stroke="#111" stroke-width="1.1"/>
<line x1="319.80" y1="398.00" x2="319.80" y2="406.50" stroke="#111" stroke-width="1.1"/>
<line x1="317.30" y1="398.00" x2="322.30" y2="398.00" stroke="#111" stroke-width="1.1"/>
<line x1="317.30" y1="406.50" x2="322.30" y2="406.50" stroke="#111" stroke-width="1.1"/>
<line x1="329.59" y1="396.50" x2="329.59" y2="405.40" stroke="#111" stroke-width="1.1"/>
<line x1="327.09" y1="396.50" x2="332.09" y2="396.50" stroke="#111" stroke-width="1.1"/>
<line x1="327.09" y1="405.40" x2="332.09" y2="405.40" stroke="#111" stroke-width="1.1"/>
<line x1="339.38" y1="395.50" x2="339.38" y2="403.80" stroke="#111" stroke-width="1.1"/>
<line x1="336.88" y1="395.50" x2="341.88" y2="395.50" stroke="#111" stroke-width="1.1"/>
<line x1="336.88" y1="403.80" x2="341.88" y2="403.80" stroke="#111" stroke-width="1.1"/>
<line x1="368.77" y1="388.50" x2="368.77" y2="399.60" stroke="#111" stroke-width="1.1"/>
<line x1="366.27" y1="388.50" x2="371.27" y2="388.50" stroke="#111" stroke-width="1.1"/>
<line x1="366.27" y1="399.60" x2="371.27" y2="399.60" stroke="#111" stroke-width="1.1"/>
<line x1="398.15" y1="376.70" x2="398.15" y2="393.50" stroke="#111" stroke-width="1.1"/>
<line x1="395.65" y1="376.70" x2="400.65" y2="376.70" stroke="#111" stroke-width="1.1"/>
<line x1="395.65" y1="393.50" x2="400.65" y2="393.50" stroke="#111" stroke-width="1.1"/>
<line x1="427.54" y1="363.30" x2="427.54" y2="386.50" stroke="#111" stroke-width="1.1"/>
<line x1="425.04" y1="363.30" x2="430.04" y2="363.30" stroke="#111" stroke-width="1.1"/>
<line x1="425.04" y1="386.50" x2="430.04" y2="386.50" stroke="#111" stroke-width="1.1"/>
<line x1="456.92" y1="346.50" x2="456.92" y2="378.20" stroke="#111" stroke-width="1.1"/>
<line x1="454.42" y1="346.50" x2="459.42" y2="346.50" stroke="#111" stroke-width="1.1"/>
<line x1="454.42" y1="378.20" x2="459.42" y2="378.20" stroke="#111" stroke-width="1.1"/>
<line x1="486.31" y1="327.40" x2="486.31" y2="368.40" stroke="#111" stroke-width="1.1"/>
<line x1="483.81" y1="327.40" x2="488.81" y2="327.40" stroke="#111" stroke-width="1.1"/>
<line x1="483.81" y1="368.40" x2="488.81" y2="368.40" stroke="#111" stroke-width="1.1"/>
<line x1="310.00" y1="396.50" x2="310.00" y2="402.00" stroke="#111" stroke-width="1.1"/>
<line x1="307.50" y1="396.50" x2="312.50" y2="396.50" stroke="#111" stroke-width="1.1"/>
<line x1="307.50" y1="402.00" x2="312.50" y2="402.00" stroke="#111" stroke-width="1.1"/>
<line x1="319.80" y1="395.80" x2="319.80" y2="401.00" stroke="#111" stroke-width="1.1"/>
<line x1="317.30" y1="395.80" x2="322.30" y2="395.80" stroke="#111" stroke-width="1.1"/>
<line x1="317.30" y1="401.00" x2="322.30" y2="401.00" stroke="#111" stroke-width="1.1"/>
<line x1="329.59" y1="393.10" x2="329.59" y2="399.50" stroke="#111" stroke-width="1.1"/>
<line x1="327.09" y1="393.10" x2="332.09" y2="393.10" stroke="#111" stroke-width="1.1"/>
<line x1="327.09" y1="399.50" x2="332.09" y2="399.50" stroke="#111" stroke-width="1.1"/>
<line x1="339.38" y1="391.20" x2="339.38" y2="397.50" stroke="#111" stroke-width="1.1"/>
<line x1="336.88" y1="391.20" x2="341.88" y2="391.20" stroke="#111" stroke-width="1.1"/>
<line x1="336.88" y1="397.50" x2="341.88" y2="397.50" stroke="#111" stroke-width="1.1"/>
<line x1="368.77" y1="378.50" x2="368.77" y2="387.00" stroke="#111" stroke-width="1.1"/>
<line x1="366.27" y1="378.50" x2="371.27" y2="378.50" stroke="#111" stroke-width="1.1"/>
<line x1="366.27" y1="387.00" x2="371.27" y2="387.00" stroke="#111" stroke-width="1.1"/>
<line x1="398.15" y1="362.70" x2="398.15" y2="372.80" stroke="#111" stroke-width="1.1"/>
<line x1="395.65" y1="362.70" x2="400.65" y2="362.70" stroke="#111" stroke-width="1.1"/>
<line x1="395.65" y1="372.80" x2="400.65" y2="372.80" stroke="#111" stroke-width="1.1"/>
<line x1="427.54" y1="342.60" x2="427.54" y2="353.10" stroke="#111" stroke-width="1.1"/>
<line x1="425.04" y1="342.60" x2="430.04" y2="342.60" stroke="#111" stroke-width="1.1"/>
<line x1="425.04" y1="353.10" x2="430.04" y2="353.10" stroke="#111" stroke-width="1.1"/>
<line x1="456.92" y1="317.50" x2="456.92" y2="331.50" stroke="#111" stroke-width="1.1"/>
<line x1="454.42" y1="317.50" x2="459.42" y2="317.50" stroke="#111" stroke-width="1.1"/>
<line x1="454.42" y1="331.50" x2="459.42" y2="331.50" stroke="#111" stroke-width="1.1"/>
<line x1="486.31" y1="289.20" x2="486.31" y2="306.70" stroke="#111" stroke-width="1.1"/>
<line x1="483.81" y1="289.20" x2="488.81" y2="289.20" stroke="#111" stroke-width="1.1"/>
<line x1="483.81" y1="306.70" x2="488.81" y2="306.70" stroke="#111" stroke-width="1.1"/>
<circle cx="310.00" cy="402.30" r="2.1" fill="#fff" stroke="#111" stroke-width="1.3"/>
<circle cx="319.80" cy="402.10" r="2.1" fill="#fff" stroke="#111" stroke-width="1.3"/>
<circle cx="329.59" cy="400.80" r="2.1" fill="#fff" stroke="#111" stroke-width="1.3"/>
<circle cx="339.38" cy="399.20" r="2.1" fill="#fff" stroke="#111" stroke-width="1.3"/>
<circle cx="368.77" cy="393.80" r="2.1" fill="#fff" stroke="#111" stroke-width="1.3"/>
<circle cx="398.15" cy="385.70" r="2.1" fill="#fff" stroke="#111" stroke-width="1.3"/>
<circle cx="427.54" cy="375.10" r="2.1" fill="#fff" stroke="#111" stroke-width="1.3"/>
<circle cx="456.92" cy="362.40" r="2.1" fill="#fff" stroke="#111" stroke-width="1.3"/>
<circle cx="486.31" cy="348.00" r="2.1" fill="#fff" stroke="#111" stroke-width="1.3"/>
<circle cx="310.00" cy="399.20" r="2.3" fill="#111"/>
<circle cx="319.80" cy="398.20" r="2.3" fill="#111"/>
<circle cx="329.59" cy="396.30" r="2.3" fill="#111"/>
<circle cx="339.38" cy="394.30" r="2.3" fill="#111"/>
<circle cx="368.77" cy="382.70" r="2.3" fill="#111"/>
<circle cx="398.15" cy="367.40" r="2.3" fill="#111"/>
<circle cx="427.54" cy="348.00" r="2.3" fill="#111"/>
<circle cx="456.92" cy="324.50" r="2.3" fill="#111"/>
<circle cx="486.31" cy="298.10" r="2.3" fill="#111"/>
</svg>
</body></html>
